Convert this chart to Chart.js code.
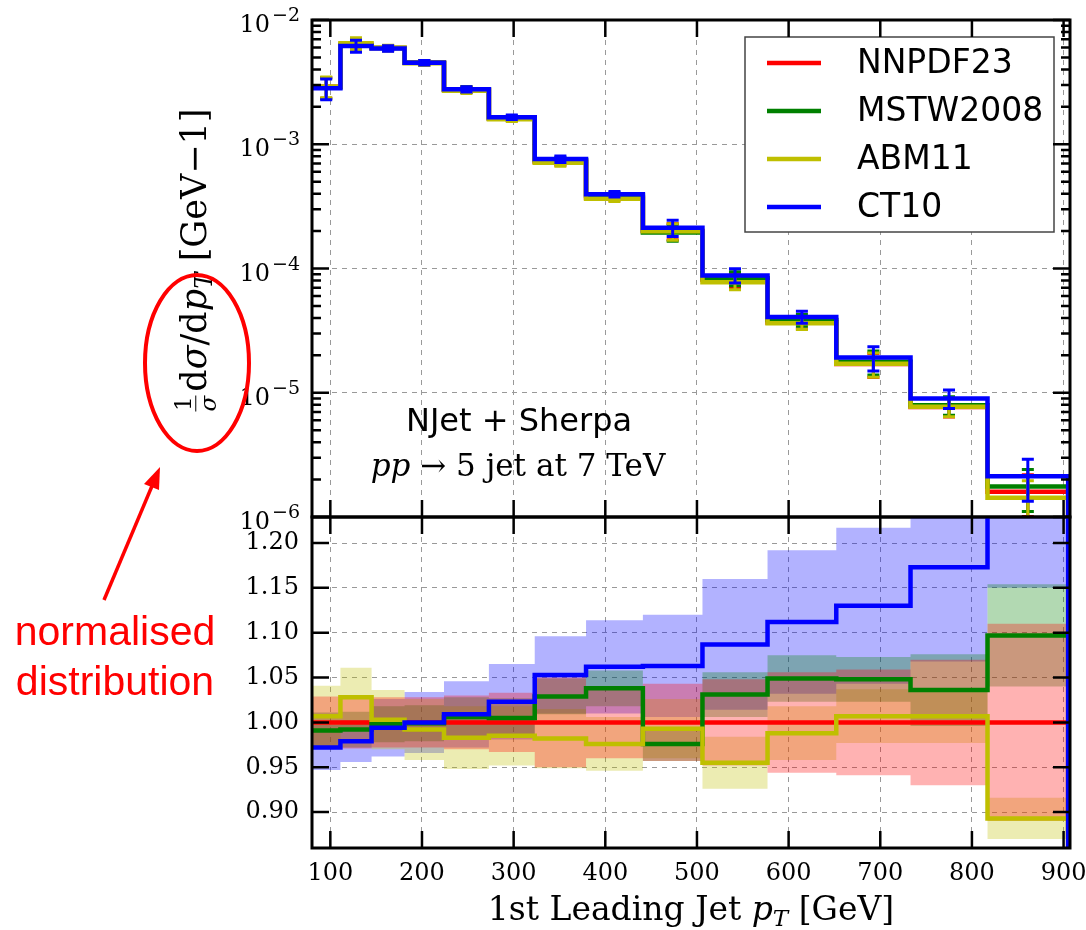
<!DOCTYPE html>
<html>
<head>
<meta charset="utf-8">
<script src="https://cdn.jsdelivr.net/npm/chart.js@4.4.0/dist/chart.umd.min.js"></script>
<style>
  body { margin: 0; background: #fff; }
  #wrap { position: relative; width: 1086px; height: 930px; overflow: hidden; background: #fff; }
  #wrap canvas { position: absolute; left: 0; }
  #topChart { top: 0; }
  #ratioChart { top: 505px; }
  .lbl { position: absolute; white-space: nowrap; color: #000; }
  .serif { font-family: 'DejaVu Serif', serif; }
  .sans { font-family: 'DejaVu Sans', sans-serif; }
  sub { font-size: 0.7em; vertical-align: -0.25em; line-height: 0; }
  #xtitle { left: 691px; top: 892px; font-size: 33px; line-height: 33px; transform: translateX(-50%); }
  #ytitle { left: 196px; top: 260px; font-size: 35px; line-height: 35px; transform: translate(-50%, -50%) rotate(-90deg); }
  .frac { display: inline-flex; flex-direction: column; vertical-align: middle; font-size: 0.66em; line-height: 1.05; text-align: center; margin-right: 4px; }
  .frac .den { border-top: 1.5px solid #000; }
  #proc1 { left: 519px; top: 404px; font-size: 32px; line-height: 32px; transform: translateX(-50%); }
  #proc2 { left: 518px; top: 450px; font-size: 31px; line-height: 31px; transform: translateX(-50%); }
  #note { left: 0; top: 606px; width: 230px; text-align: center; color: #ff0000; font-family: 'Liberation Sans', Arial, sans-serif; font-size: 41px; line-height: 50px; }
  #anno { position: absolute; left: 0; top: 0; }
</style>
</head>
<body>
<div id="wrap">
  <canvas id="topChart" width="1086" height="530"></canvas>
  <canvas id="ratioChart" width="1086" height="425"></canvas>
  <div id="ytitle" class="lbl serif"><span class="frac"><span>1</span><span class="den"><i>σ</i></span></span>d<i>σ</i>/d<i>p</i><sub><i>T</i></sub> [GeV−1]</div>
  <div id="xtitle" class="lbl serif">1st Leading Jet <i>p</i><sub><i>T</i></sub> [GeV]</div>
  <div id="proc1" class="lbl sans">NJet + Sherpa</div>
  <div id="proc2" class="lbl serif"><i>pp</i> → 5 jet at 7 TeV</div>
  <svg id="anno" width="300" height="720">
    <ellipse cx="197" cy="363" rx="52" ry="88" fill="none" stroke="#ff0000" stroke-width="4"/>
    <line x1="104" y1="600" x2="152" y2="486" stroke="#ff0000" stroke-width="3.5"/>
    <polygon points="160,467 144,484 159,490" fill="#ff0000"/>
  </svg>
  <div id="note" class="lbl">normalised<br>distribution</div>
</div>

<script>
// Бины по pT (GeV)
const binEdges = [80, 111, 145, 181, 224, 273, 323, 379, 441, 506, 577, 652, 733, 817, 905];
const pdfNames = ['NNPDF23', 'MSTW2008', 'ABM11', 'CT10'];

// Верхняя панель: 1/sigma dsigma/dpT
const nnpdfXs = [2.90e-3, 6.31e-3, 5.95e-3, 4.53e-3, 2.75e-3, 1.61e-3, 7.22e-4, 3.73e-4, 2.00e-4, 8.10e-5, 3.67e-5, 1.70e-5, 7.67e-6, 1.60e-6];
const mstwXs  = [2.87e-3, 6.27e-3, 5.94e-3, 4.53e-3, 2.76e-3, 1.62e-3, 7.43e-4, 3.87e-4, 1.95e-4, 8.35e-5, 3.85e-5, 1.78e-5, 7.95e-6, 1.76e-6];
const abmXs   = [2.92e-3, 6.49e-3, 5.97e-3, 4.49e-3, 2.70e-3, 1.59e-3, 7.09e-4, 3.64e-4, 1.99e-4, 7.74e-5, 3.63e-5, 1.71e-5, 7.72e-6, 1.43e-6];
const ct10Xs  = [2.82e-3, 6.18e-3, 5.91e-3, 4.53e-3, 2.77e-3, 1.65e-3, 7.60e-4, 3.96e-4, 2.13e-4, 8.80e-5, 4.08e-5, 1.92e-5, 9.00e-6, 2.13e-6];
// относительные стат. ошибки (error bars)
const statErr = [0.19, 0.11, 0.05, 0.04, 0.05, 0.04, 0.06, 0.05, 0.15, 0.13, 0.11, 0.22, 0.17, 0.37];

// Нижняя панель: отношение к NNPDF23 и полуширина полос
const nnpdfRatio = [1, 1, 1, 1, 1, 1, 1, 1, 1, 1, 1, 1, 1, 1];
const mstwRatio  = [0.991, 0.992, 0.998, 0.999, 1.006, 1.005, 1.029, 1.038, 0.976, 1.031, 1.049, 1.048, 1.036, 1.097];
const abmRatio   = [1.007, 1.028, 1.003, 0.992, 0.983, 0.985, 0.982, 0.976, 0.993, 0.955, 0.988, 1.007, 1.007, 0.893];
const ct10Ratio  = [0.972, 0.979, 0.994, 1.000, 1.009, 1.023, 1.053, 1.062, 1.063, 1.087, 1.112, 1.130, 1.173, 1.330];
const nnpdfBand = [0.029, 0.029, 0.028, 0.028, 0.030, 0.033, 0.050, 0.040, 0.043, 0.048, 0.056, 0.059, 0.070, 0.110];
const mstwBand  = [0.020, 0.020, 0.020, 0.020, 0.022, 0.022, 0.020, 0.020, 0.019, 0.025, 0.026, 0.025, 0.040, 0.057];
const abmBand   = [0.034, 0.033, 0.033, 0.034, 0.035, 0.033, 0.033, 0.030, 0.033, 0.029, 0.030, 0.030, 0.030, 0.023];
const ct10Band  = [0.025, 0.023, 0.032, 0.034, 0.037, 0.042, 0.043, 0.052, 0.057, 0.073, 0.080, 0.087, 0.105, 0.180];

// Деления осей
const xTicks = [100, 200, 300, 400, 500, 600, 700, 800, 900];
const logTicks = [1e-6, 1e-5, 1e-4, 1e-3, 1e-2];
const ratioTicks = [0.90, 0.95, 1.00, 1.05, 1.10, 1.15, 1.20];

const lineColors = ['#ff0000', '#008000', '#bfbf00', '#0000ff'];
const bandColors = ['rgba(255,0,0,0.3)', 'rgba(0,128,0,0.3)', 'rgba(191,191,0,0.3)', 'rgba(0,0,255,0.3)'];
const topSeries = [nnpdfXs, mstwXs, abmXs, ct10Xs];
const ratioSeries = [nnpdfRatio, mstwRatio, abmRatio, ct10Ratio];
const bandSeries = [nnpdfBand, mstwBand, abmBand, ct10Band];

const SERIF = "'DejaVu Serif', serif";
const SANS = "'DejaVu Sans', sans-serif";

// Точки для ступенчатой гистограммы
function stepPoints(values, floor) {
    const last = binEdges[binEdges.length - 1];
    const pts = values.map((v, i) => ({ x: binEdges[i], y: v }));
    pts.push({ x: last, y: values[values.length - 1] });
    if (floor !== undefined) pts.push({ x: last, y: floor });
    return pts;
}

function stepLine(label, values, color, order, floor) {
    return {
        label: label,
        data: stepPoints(values, floor),
        borderColor: color,
        borderWidth: 4.5,
        stepped: true,
        fill: false,
        pointRadius: 0,
        borderCapStyle: 'butt',
        borderJoinStyle: 'miter',
        order: order
    };
}

// Рамка и засечки внутрь, на всех сторонах
function framePlugin(yMajor, yMinor) {
    return {
        id: 'frameTicks',
        afterDraw(chart) {
            const { ctx, chartArea: a, scales } = chart;
            ctx.save();
            ctx.strokeStyle = '#000';
            ctx.lineWidth = 2.5;
            ctx.beginPath();
            xTicks.forEach(v => {
                const px = scales.x.getPixelForValue(v);
                ctx.moveTo(px, a.top); ctx.lineTo(px, a.top + 17);
                ctx.moveTo(px, a.bottom); ctx.lineTo(px, a.bottom - 17);
            });
            yMajor.forEach(v => {
                const py = scales.y.getPixelForValue(v);
                ctx.moveTo(a.left, py); ctx.lineTo(a.left + 17, py);
                ctx.moveTo(a.right, py); ctx.lineTo(a.right - 17, py);
            });
            yMinor.forEach(v => {
                const py = scales.y.getPixelForValue(v);
                ctx.moveTo(a.left, py); ctx.lineTo(a.left + 9, py);
                ctx.moveTo(a.right, py); ctx.lineTo(a.right - 9, py);
            });
            ctx.stroke();
            ctx.lineWidth = 3;
            ctx.strokeRect(a.left, a.top, a.right - a.left, a.bottom - a.top);
            ctx.restore();
        }
    };
}

// Метки 10^-n слева
const logLabels = {
    id: 'logLabels',
    afterDraw(chart) {
        const { ctx, scales: { y } } = chart;
        ctx.save();
        ctx.fillStyle = '#000';
        ctx.textAlign = 'right';
        ctx.textBaseline = 'alphabetic';
        logTicks.forEach(v => {
            const py = y.getPixelForValue(v);
            const exp = '\u2212' + Math.round(-Math.log10(v));
            ctx.font = '19px ' + SERIF;
            const ew = ctx.measureText(exp).width;
            ctx.fillText(exp, 300, py + 1);
            ctx.font = '24px ' + SERIF;
            ctx.fillText('10', 300 - ew - 2, py + 12);
        });
        ctx.restore();
    }
};

// Стат. ошибки в центрах бинов
const errorBars = {
    id: 'errorBars',
    afterDatasetDraw(chart, args) {
        const values = topSeries[args.index];
        if (!values) return;
        const { ctx, chartArea: a, scales: { x, y } } = chart;
        ctx.save();
        ctx.beginPath();
        ctx.rect(a.left, a.top, a.right - a.left, a.bottom - a.top);
        ctx.clip();
        ctx.strokeStyle = lineColors[args.index];
        ctx.lineWidth = 3;
        values.forEach((v, i) => {
            const cx = x.getPixelForValue((binEdges[i] + binEdges[i + 1]) / 2);
            const y1 = y.getPixelForValue(v * (1 + statErr[i]));
            const y2 = y.getPixelForValue(v * (1 - statErr[i]));
            ctx.beginPath();
            ctx.moveTo(cx, y1); ctx.lineTo(cx, y2);
            ctx.moveTo(cx - 6, y1); ctx.lineTo(cx + 6, y1);
            ctx.moveTo(cx - 6, y2); ctx.lineTo(cx + 6, y2);
            ctx.stroke();
        });
        ctx.restore();
    }
};

// Легенда в правом верхнем углу
const boxLegend = {
    id: 'boxLegend',
    afterDatasetsDraw(chart) {
        const ctx = chart.ctx;
        ctx.save();
        ctx.fillStyle = '#fff';
        ctx.fillRect(745, 37, 309, 195);
        ctx.strokeStyle = '#444';
        ctx.lineWidth = 1.5;
        ctx.strokeRect(745, 37, 309, 195);
        ctx.font = '33px ' + SANS;
        ctx.textBaseline = 'middle';
        chart.data.datasets.forEach((ds, i) => {
            const yy = 63 + 48 * i;
            ctx.strokeStyle = ds.borderColor;
            ctx.lineWidth = 4.5;
            ctx.beginPath();
            ctx.moveTo(767, yy); ctx.lineTo(821, yy);
            ctx.stroke();
            ctx.fillStyle = '#000';
            ctx.fillText(ds.label, 857, yy + 1);
        });
        ctx.restore();
    }
};

const minorLog = [];
for (let n = -6; n < -2; n++) {
    for (let k = 2; k <= 9; k++) minorLog.push(k * Math.pow(10, n));
}

const gridStyle = { color: '#999', lineWidth: 1, drawTicks: false };
const borderStyle = { display: false, dash: [5, 5] };

// без автоматических отступов под подписи
function fixX(h) {
    return s => { s.height = h; s.paddingLeft = 0; s.paddingRight = 0; };
}
function fixY(w) {
    return s => { s.width = w; s.paddingTop = 0; s.paddingBottom = 0; };
}

// Верхний график
new Chart(document.getElementById('topChart'), {
    type: 'line',
    data: {
        datasets: pdfNames.map((name, i) => stepLine(name, topSeries[i], lineColors[i], 4 - i, 1e-9))
    },
    options: {
        responsive: false,
        animation: false,
        devicePixelRatio: 1,
        layout: { padding: { left: 0, right: 16, top: 20, bottom: 13 } },
        plugins: { legend: { display: false }, tooltip: { enabled: false } },
        scales: {
            x: {
                type: 'linear', min: 80, max: 907,
                afterBuildTicks: s => { s.ticks = xTicks.map(v => ({ value: v })); },
                afterFit: fixX(0),
                ticks: { display: false },
                grid: gridStyle,
                border: borderStyle
            },
            y: {
                type: 'logarithmic', min: 1e-6, max: 1e-2,
                afterBuildTicks: s => { s.ticks = logTicks.map(v => ({ value: v })); },
                afterFit: fixY(312),
                ticks: { display: false },
                grid: gridStyle,
                border: borderStyle
            }
        }
    },
    plugins: [errorBars, boxLegend, framePlugin(logTicks, minorLog), logLabels]
});

// Нижний график: полосы и отношения
const ratioSets = [];
pdfNames.forEach((name, i) => {
    const lo = ratioSeries[i].map((r, k) => r - bandSeries[i][k]);
    const hi = ratioSeries[i].map((r, k) => r + bandSeries[i][k]);
    const common = { stepped: true, pointRadius: 0, borderWidth: 0, borderColor: 'rgba(0,0,0,0)', order: 10 };
    ratioSets.push(Object.assign({ data: stepPoints(lo), fill: false }, common));
    ratioSets.push(Object.assign({ data: stepPoints(hi), fill: '-1', backgroundColor: bandColors[i] }, common));
});
pdfNames.forEach((name, i) => {
    ratioSets.push(stepLine(name, ratioSeries[i], lineColors[i], 4 - i, 0));
});

new Chart(document.getElementById('ratioChart'), {
    type: 'line',
    data: { datasets: ratioSets },
    options: {
        responsive: false,
        animation: false,
        devicePixelRatio: 1,
        layout: { padding: { left: 0, right: 16, top: 12, bottom: 0 } },
        plugins: { legend: { display: false }, tooltip: { enabled: false } },
        scales: {
            x: {
                type: 'linear', min: 80, max: 907,
                afterBuildTicks: s => { s.ticks = xTicks.map(v => ({ value: v })); },
                afterFit: fixX(82),
                ticks: { color: '#000', font: { family: SERIF, size: 24 }, padding: 11, maxRotation: 0, autoSkip: false },
                grid: gridStyle,
                border: borderStyle
            },
            y: {
                type: 'linear', min: 0.86, max: 1.229,
                afterBuildTicks: s => { s.ticks = ratioTicks.map(v => ({ value: v })); },
                afterFit: fixY(312),
                ticks: { color: '#000', font: { family: SERIF, size: 24 }, padding: 13, callback: v => v.toFixed(2) },
                grid: gridStyle,
                border: borderStyle
            }
        }
    },
    plugins: [framePlugin(ratioTicks, [])]
});
</script>
</body>
</html>
